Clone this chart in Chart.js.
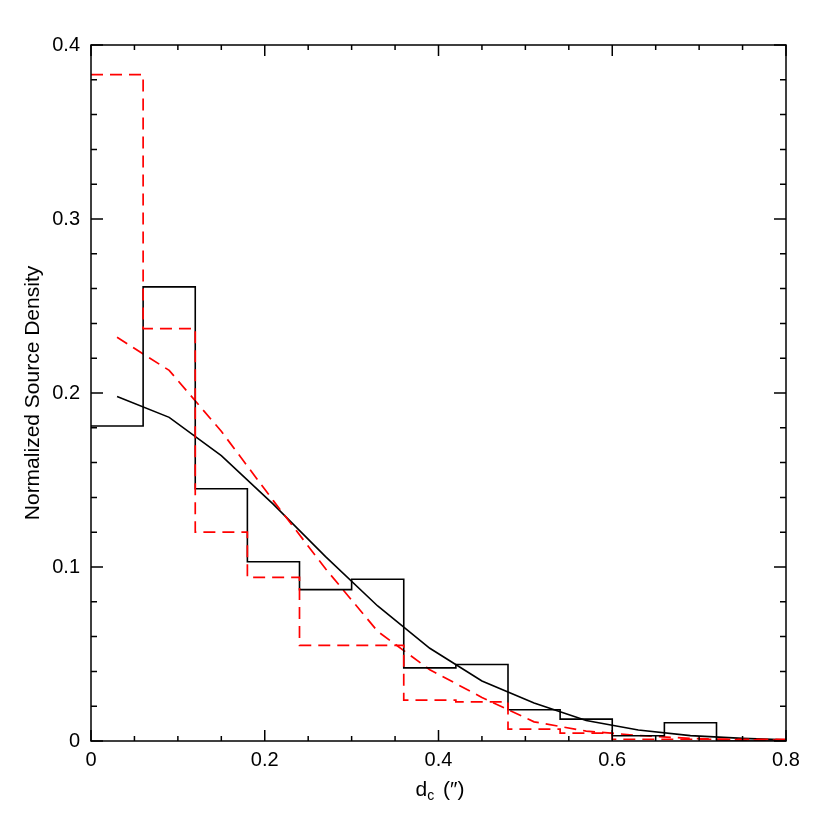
<!DOCTYPE html>
<html>
<head>
<meta charset="utf-8">
<script src="https://cdn.jsdelivr.net/npm/chart.js@4.4.0/dist/chart.umd.min.js"></script>
<style>
  html, body { margin: 0; padding: 0; background: #fff; }
  canvas { display: block; }
</style>
</head>
<body>
<canvas id="densityChart" width="830" height="830"></canvas>
<script>
// bin left edges (0.06 wide), last entry closes the final bin
const binEdges = [0, 0.06, 0.12, 0.18, 0.24, 0.30, 0.36, 0.42, 0.48, 0.54, 0.60, 0.66, 0.72, 0.78, 0.84];
const blackHist = [0.181, 0.261, 0.145, 0.103, 0.087, 0.093, 0.042, 0.044, 0.018, 0.0126, 0.003, 0.0105, 0, 0];
const redHist = [0.383, 0.237, 0.120, 0.094, 0.055, 0.055, 0.0235, 0.0225, 0.0068, 0.0045, 0.001, 0.001, 0.001, 0.001];

// smooth model curves at bin centres
const curveX = [0.03, 0.09, 0.15, 0.21, 0.27, 0.33, 0.39, 0.45, 0.51, 0.57, 0.63, 0.69, 0.75, 0.81];
const blackCurve = [0.198, 0.186, 0.164, 0.136, 0.106, 0.0776, 0.0533, 0.0345, 0.0218, 0.0118, 0.0063, 0.0031, 0.0015, 0.0005];
const redCurve = [0.232, 0.213, 0.178, 0.138, 0.099, 0.063, 0.041, 0.025, 0.011, 0.0057, 0.0032, 0.0015, 0.0007, 0.0003];

const xTickLabels = ["0", "0.2", "0.4", "0.6", "0.8"];
const yTickLabels = ["0", "0.1", "0.2", "0.3", "0.4"];
const yTitle = "Normalized Source Density";

const fam = "'Liberation Sans Narrow', 'Liberation Sans', sans-serif";
const tickFont = { family: fam, size: 20 };

// histogram outline: value i spans binEdges[i]..binEdges[i+1] (stepped 'before')
function histPoints(vals) {
  const pts = vals.map((v, i) => ({ x: binEdges[i], y: v }));
  pts.push({ x: binEdges[vals.length], y: vals[vals.length - 1] });
  return pts;
}

function curvePoints(vals) {
  return vals.map((v, i) => ({ x: curveX[i], y: v }));
}

// frame, inside ticks on all four sides, and axis titles
const frameTicks = {
  id: "frameTicks",
  afterDraw(chart) {
    const { ctx, chartArea: a, scales: { x, y } } = chart;
    ctx.save();
    ctx.strokeStyle = "#000";
    ctx.lineWidth = 1.5;
    ctx.beginPath();
    for (let i = 0; i <= 16; i++) {
      const px = x.getPixelForValue(i * 0.05);
      const len = i % 4 === 0 ? 11 : 5;
      ctx.moveTo(px, a.bottom); ctx.lineTo(px, a.bottom - len);
      ctx.moveTo(px, a.top); ctx.lineTo(px, a.top + len);
    }
    for (let i = 0; i <= 20; i++) {
      const py = y.getPixelForValue(i * 0.02);
      const len = i % 5 === 0 ? 12 : 6;
      ctx.moveTo(a.left, py); ctx.lineTo(a.left + len, py);
      ctx.moveTo(a.right, py); ctx.lineTo(a.right - len, py);
    }
    ctx.stroke();
    ctx.strokeRect(a.left, a.top, a.right - a.left, a.bottom - a.top);

    ctx.fillStyle = "#000";
    // y title
    ctx.save();
    ctx.translate(33, (a.top + a.bottom) / 2);
    ctx.rotate(-Math.PI / 2);
    ctx.font = "21px " + fam;
    ctx.textAlign = "center";
    ctx.textBaseline = "middle";
    ctx.fillText(yTitle, 0, 0);
    ctx.restore();

    // x title: d with subscript c, then (″)
    const cx = (a.left + a.right) / 2;
    const base = 796;
    ctx.textBaseline = "alphabetic";
    ctx.textAlign = "left";
    ctx.font = "21px " + fam;
    const wD = ctx.measureText("d").width;
    const wRest = ctx.measureText(" (\u2033)").width;
    ctx.font = "14px " + fam;
    const wC = ctx.measureText("c").width;
    const sx = cx - (wD + wC + wRest) / 2;
    ctx.font = "21px " + fam;
    ctx.fillText("d", sx, base);
    ctx.font = "14px " + fam;
    ctx.fillText("c", sx + wD, base + 4);
    ctx.font = "21px " + fam;
    ctx.fillText(" (\u2033)", sx + wD + wC + 3, base);
    ctx.restore();
  }
};

new Chart(document.getElementById("densityChart").getContext("2d"), {
  type: "line",
  data: {
    datasets: [
      {
        data: histPoints(redHist),
        borderColor: "#ff0000",
        borderWidth: 1.7,
        borderDash: [12, 7],
        stepped: "before",
        pointRadius: 0,
        fill: false
      },
      {
        data: histPoints(blackHist),
        borderColor: "#000",
        borderWidth: 1.6,
        stepped: "before",
        pointRadius: 0,
        fill: false
      },
      {
        data: curvePoints(redCurve),
        borderColor: "#ff0000",
        borderWidth: 1.7,
        borderDash: [12, 7],
        pointRadius: 0,
        tension: 0,
        fill: false
      },
      {
        data: curvePoints(blackCurve),
        borderColor: "#000",
        borderWidth: 1.6,
        pointRadius: 0,
        tension: 0,
        fill: false
      }
    ]
  },
  options: {
    responsive: false,
    animation: false,
    devicePixelRatio: 1,
    layout: { padding: { top: 45, right: 44, left: 0, bottom: 0 } },
    plugins: { legend: { display: false }, tooltip: { enabled: false } },
    scales: {
      x: {
        type: "linear",
        min: 0,
        max: 0.8,
        grid: { display: false, drawTicks: false },
        border: { display: false },
        ticks: {
          stepSize: 0.2,
          color: "#000",
          font: tickFont,
          padding: 7,
          maxRotation: 0,
          callback: (v, i) => xTickLabels[i]
        },
        afterFit(s) { s.height = 89; }
      },
      y: {
        type: "linear",
        min: 0,
        max: 0.4,
        grid: { display: false, drawTicks: false },
        border: { display: false },
        ticks: {
          stepSize: 0.1,
          color: "#000",
          font: tickFont,
          padding: 11,
          callback: (v, i) => yTickLabels[i]
        },
        afterFit(s) { s.width = 91; }
      }
    }
  },
  plugins: [frameTicks]
});
</script>
</body>
</html>
